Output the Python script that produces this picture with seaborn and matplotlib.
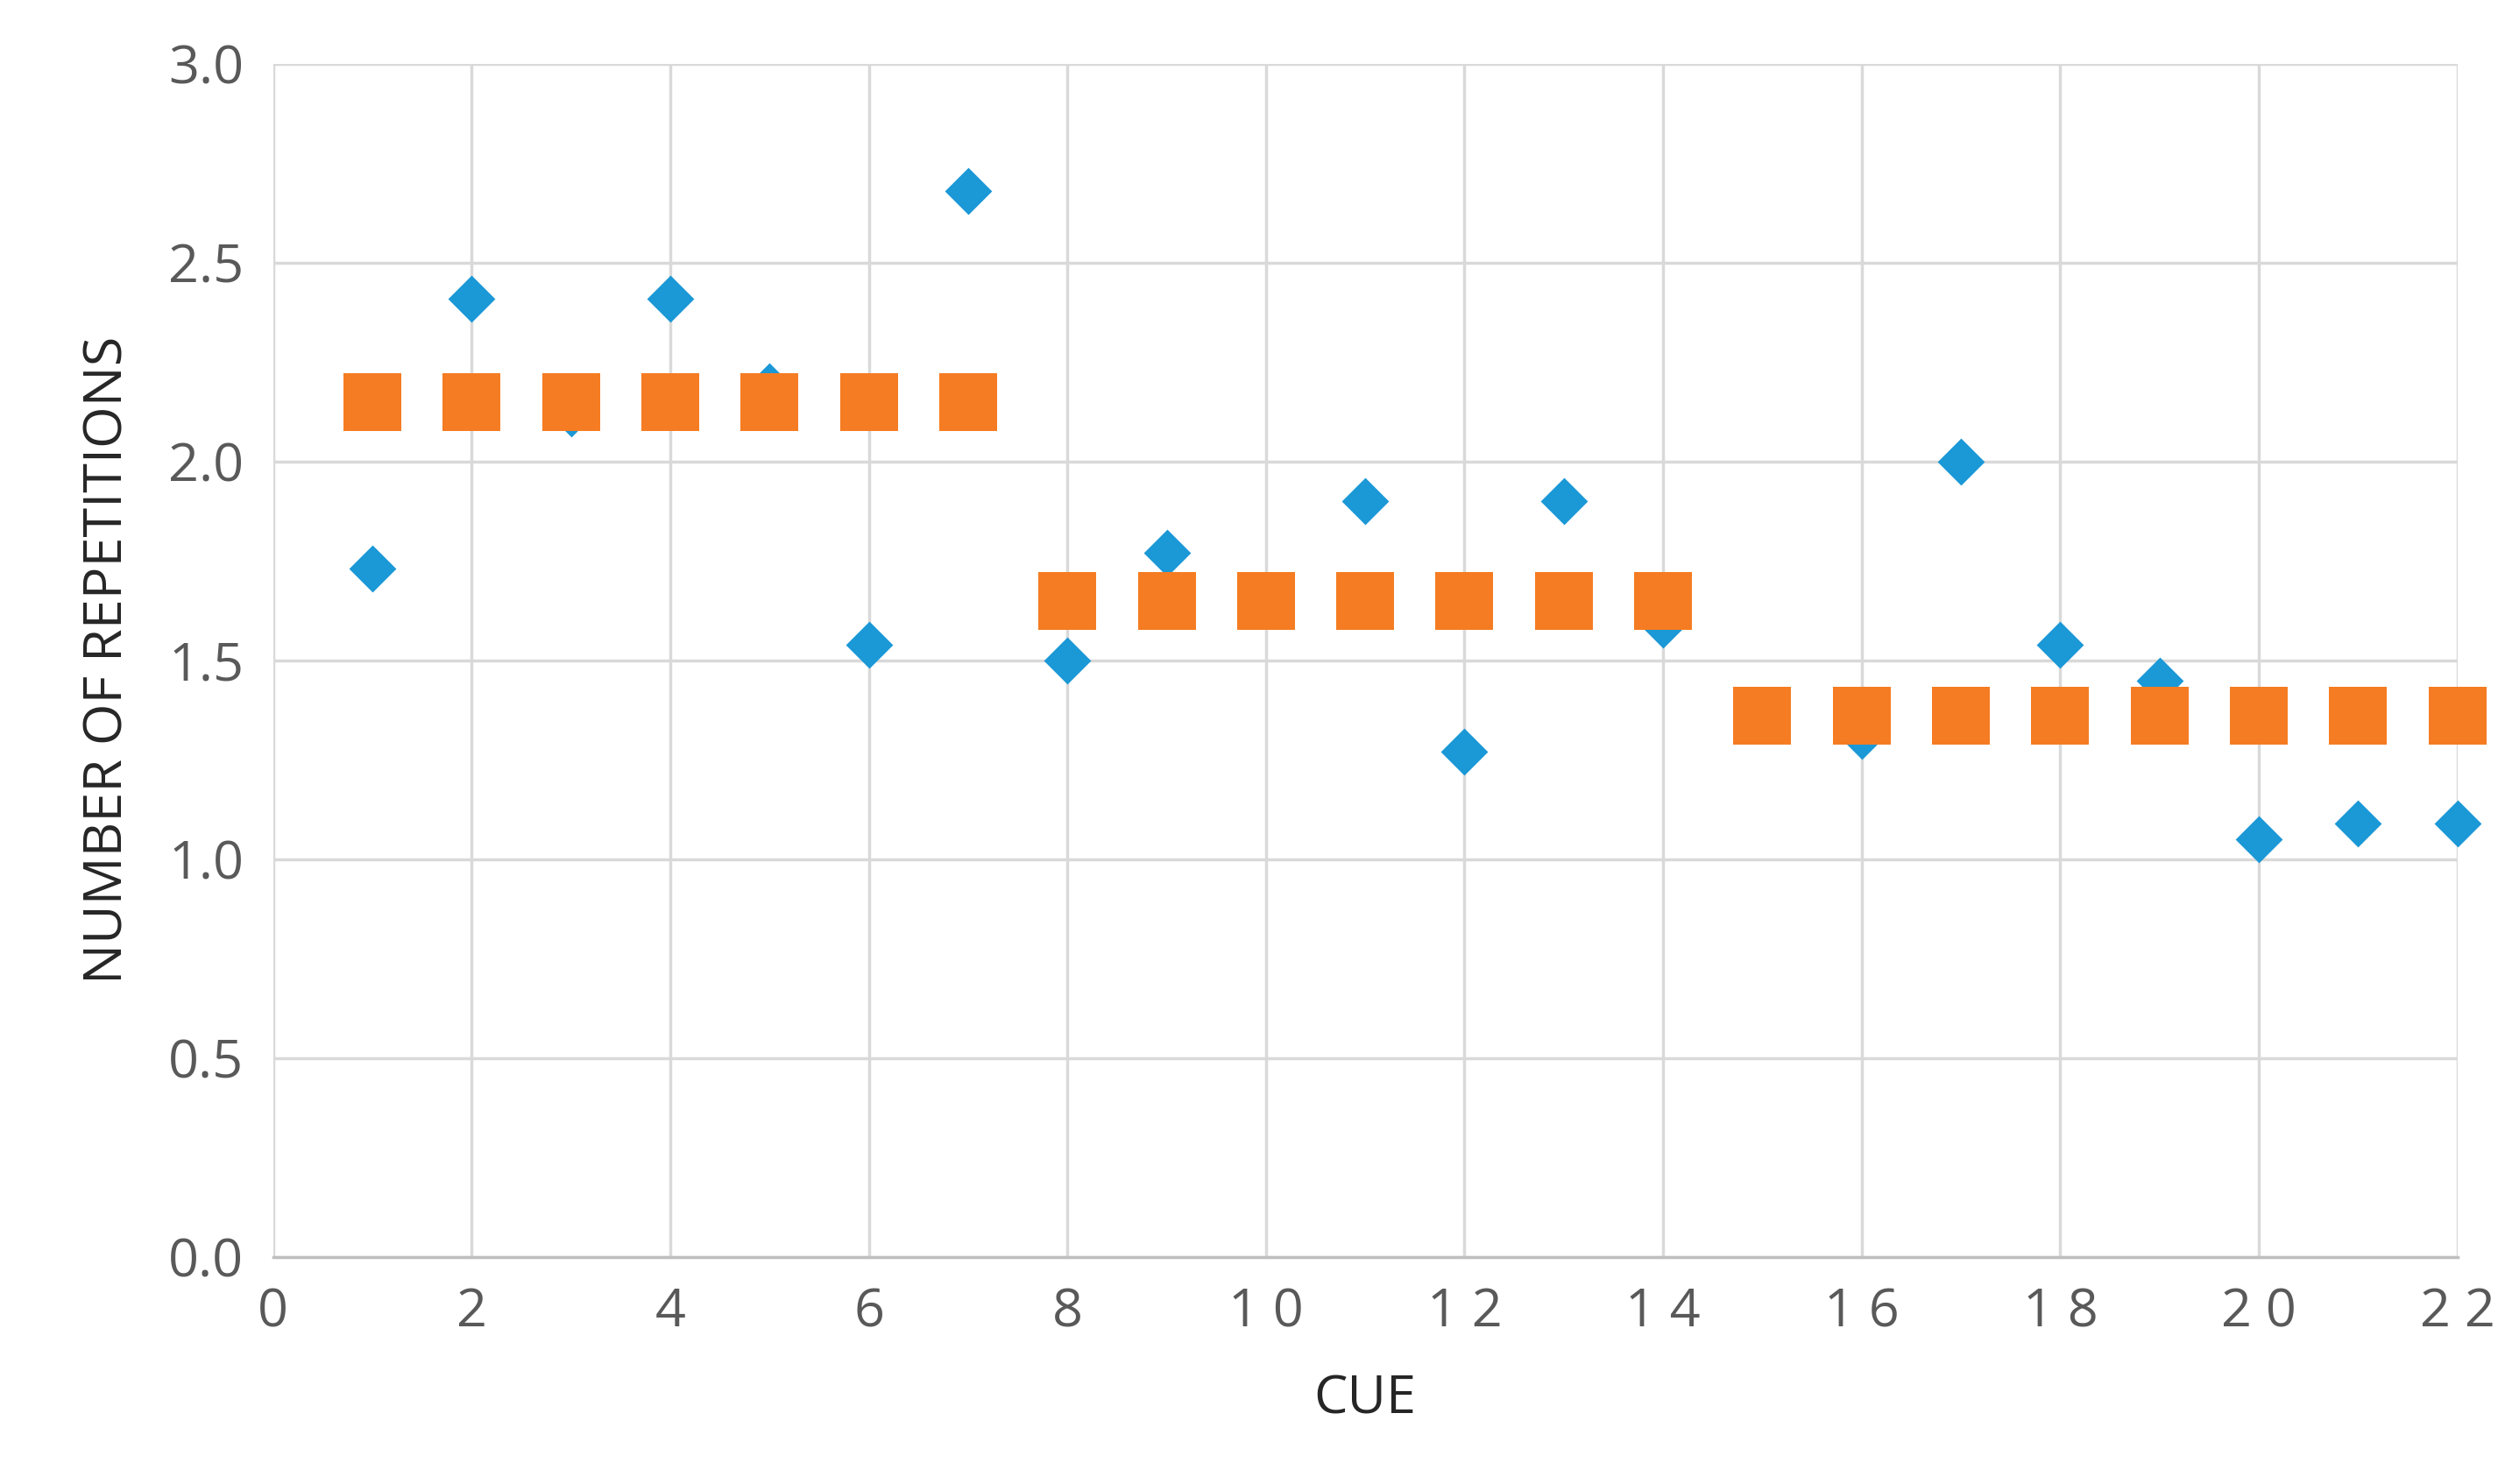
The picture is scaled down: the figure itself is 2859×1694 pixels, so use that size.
import matplotlib
matplotlib.use("Agg")
import matplotlib.pyplot as plt
import seaborn as sns
import pandas as pd

cue = list(range(1, 23))
observed = [1.73, 2.41, 2.12, 2.41, 2.19, 1.54, 2.68, 1.50, 1.77, 1.66, 1.90,
            1.27, 1.90, 1.59, 1.36, 1.31, 2.00, 1.54, 1.45, 1.05, 1.09, 1.09]
block_mean = [2.15] * 7 + [1.65] * 7 + [1.36] * 8

df = pd.DataFrame({"cue": cue, "observed": observed, "mean": block_mean})

sns.set_style("white")
plt.rcParams["font.family"] = ["Open Sans", "DejaVu Sans"]
fig = plt.figure(figsize=(28.59, 16.94), dpi=100)
ax = fig.add_axes([0.109, 0.153, 0.872, 0.804])

sns.scatterplot(data=df, x="cue", y="observed", marker="D", s=750,
                color="#1b98d6", linewidth=0, ax=ax, zorder=3, clip_on=False)
sns.scatterplot(data=df, x="cue", y="mean", marker="s", s=2300,
                color="#f57c22", linewidth=0, ax=ax, zorder=4, clip_on=False)

ax.set_xlim(0, 22)
ax.set_ylim(0, 3.0)
ax.set_xticks(range(0, 23, 2))
ax.set_xticklabels([" ".join(str(v)) for v in range(0, 23, 2)])
ax.set_yticks([0, 0.5, 1.0, 1.5, 2.0, 2.5, 3.0])
ax.set_yticklabels([f"{v:.1f}" for v in [0, 0.5, 1.0, 1.5, 2.0, 2.5, 3.0]])
ax.grid(True, color="#d9d9d9", linewidth=2.5)
ax.set_axisbelow(True)
for side in ["top", "right", "left"]:
    ax.spines[side].set_visible(False)
ax.spines["bottom"].set_color("#bfbfbf")
ax.spines["bottom"].set_linewidth(2.5)
ax.tick_params(axis="both", length=0, labelsize=44, labelcolor="#595959", pad=24)
ax.set_xlabel("CUE", fontsize=44, labelpad=28)
ax.set_ylabel("NUMBER OF REPETITIONS", fontsize=44, labelpad=28)

fig.savefig("out.png", dpi=100)
